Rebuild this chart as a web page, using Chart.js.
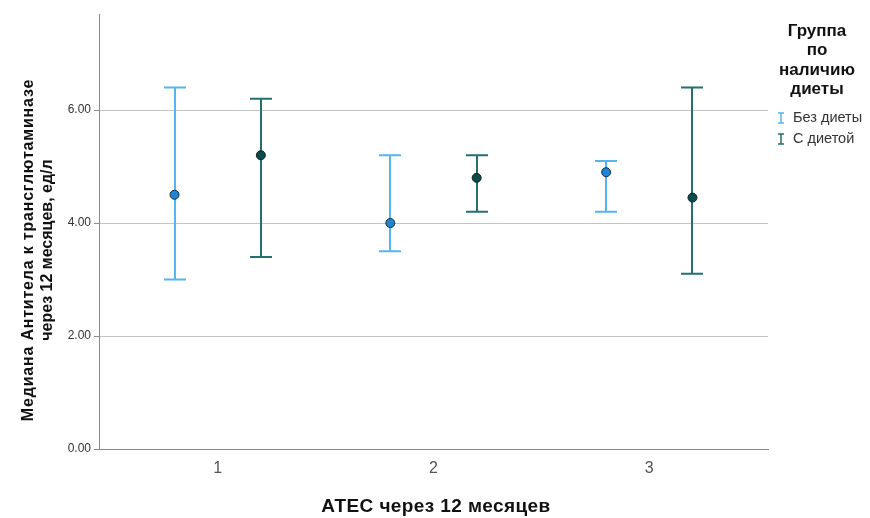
<!DOCTYPE html>
<html>
<head>
<meta charset="utf-8">
<script src="https://cdn.jsdelivr.net/npm/chart.js@4"></script>
<style>
  html, body { margin: 0; padding: 0; background: #fff; }
  #wrap { width: 870px; height: 518px; position: relative; }
</style>
</head>
<body>
<div id="wrap"><canvas id="chart" width="870" height="518"></canvas></div>
<script>
// ATEC groups and median antibody values (with interval ends) per diet group
const groups = [1, 2, 3];
const noDietMedian = [4.5, 4.0, 4.9];
const noDietLow = [3.0, 3.5, 4.2];
const noDietHigh = [6.4, 5.2, 5.1];
const dietMedian = [5.2, 4.8, 4.45];
const dietLow = [3.4, 4.2, 3.1];
const dietHigh = [6.2, 5.2, 6.4];
const seriesNames = ['Без диеты', 'С диетой'];
const legendTitle = ['Группа', 'по', 'наличию', 'диеты'];
const yTitle = ['Медиана Антитела к трансглютаминазе', 'через 12 месяцев, ед/л'];
const xTitle = 'АТЕС через 12 месяцев';

const FONT = '"Liberation Sans", Arial, sans-serif';
const BLUE_BAR = '#56b4ee';
const BLUE_DOT = '#1c86d6';
const TEAL_BAR = '#23706e';
const TEAL_DOT = '#0b4b4b';
const SHIFT = 0.2;

function points(mean, dx) {
  return groups.map((g, i) => ({ x: g + dx, y: mean[i] }));
}

const errorBars = {
  id: 'errorBars',
  beforeDatasetsDraw(chart) {
    const { ctx, scales: { x, y } } = chart;
    const sets = [
      { low: noDietLow, high: noDietHigh, dx: -SHIFT, color: BLUE_BAR },
      { low: dietLow, high: dietHigh, dx: SHIFT, color: TEAL_BAR }
    ];
    ctx.save();
    ctx.lineWidth = 2;
    sets.forEach(s => {
      ctx.strokeStyle = s.color;
      groups.forEach((g, i) => {
        const px = Math.round(x.getPixelForValue(g + s.dx));
        const y0 = y.getPixelForValue(s.low[i]);
        const y1 = y.getPixelForValue(s.high[i]);
        ctx.beginPath();
        ctx.moveTo(px, y0); ctx.lineTo(px, y1);
        ctx.moveTo(px - 11, y0); ctx.lineTo(px + 11, y0);
        ctx.moveTo(px - 11, y1); ctx.lineTo(px + 11, y1);
        ctx.stroke();
      });
    });
    ctx.restore();
  }
};

const decorations = {
  id: 'decorations',
  afterDraw(chart) {
    const ctx = chart.ctx;
    ctx.save();
    ctx.fillStyle = '#111';
    ctx.textAlign = 'center';
    ctx.textBaseline = 'middle';
    // x axis title
    ctx.font = 'bold 19px ' + FONT;
    ctx.letterSpacing = '0.4px';
    ctx.fillText(xTitle, 436, 507);
    // y axis title, two lines
    ctx.font = 'bold 16px ' + FONT;
    ctx.save();
    ctx.translate(0, 250);
    ctx.rotate(-Math.PI / 2);
    ctx.letterSpacing = '0.8px';
    ctx.fillText(yTitle[0], 0, 29);
    ctx.letterSpacing = '0px';
    ctx.fillText(yTitle[1], 0, 48);
    ctx.restore();
    // legend
    ctx.letterSpacing = '0px';
    ctx.font = 'bold 17px ' + FONT;
    legendTitle.forEach((t, i) => ctx.fillText(t, 817, 31 + i * 19.5));
    ctx.textAlign = 'left';
    ctx.font = '14.5px ' + FONT;
    ctx.fillStyle = '#333';
    [BLUE_BAR, TEAL_BAR].forEach((c, i) => {
      const cy = 118 + i * 21;
      ctx.strokeStyle = c;
      ctx.lineWidth = 1.5;
      ctx.beginPath();
      ctx.moveTo(781, cy - 5); ctx.lineTo(781, cy + 5);
      ctx.moveTo(778, cy - 5); ctx.lineTo(784, cy - 5);
      ctx.moveTo(778, cy + 5); ctx.lineTo(784, cy + 5);
      ctx.stroke();
      ctx.fillText(seriesNames[i], 793, cy);
    });
    ctx.restore();
  }
};

new Chart(document.getElementById('chart'), {
  type: 'scatter',
  data: {
    datasets: [
      {
        label: seriesNames[0],
        data: points(noDietMedian, -SHIFT),
        backgroundColor: BLUE_DOT,
        borderColor: '#1b2a36',
        borderWidth: 1,
        pointRadius: 4.5
      },
      {
        label: seriesNames[1],
        data: points(dietMedian, SHIFT),
        backgroundColor: TEAL_DOT,
        borderColor: '#0c2222',
        borderWidth: 1,
        pointRadius: 4.5
      }
    ]
  },
  options: {
    responsive: false,
    animation: false,
    layout: { padding: { left: 0, right: 102, top: 14, bottom: 0 } },
    plugins: { legend: { display: false }, tooltip: { enabled: false } },
    scales: {
      x: {
        type: 'linear',
        min: 0.45,
        max: 3.55,
        afterFit(s) { s.height = 69; },
        afterBuildTicks(s) { s.ticks = groups.map(v => ({ value: v })); },
        border: { color: '#8a8a8a', width: 1 },
        grid: { drawOnChartArea: false, tickLength: 0 },
        ticks: {
          padding: 10,
          color: '#555',
          font: { family: FONT, size: 16 },
          callback: v => String(v)
        }
      },
      y: {
        min: 0,
        max: 7.7,
        afterFit(s) { s.width = 99; },
        border: { color: '#8a8a8a', width: 1 },
        grid: { color: '#c4c4c4', lineWidth: 1, tickLength: 5, tickColor: '#8a8a8a' },
        ticks: {
          stepSize: 2,
          includeBounds: false,
          padding: 3,
          color: '#333',
          font: { family: FONT, size: 12 },
          callback: v => v.toFixed(2)
        }
      }
    }
  },
  plugins: [errorBars, decorations]
});
</script>
</body>
</html>
